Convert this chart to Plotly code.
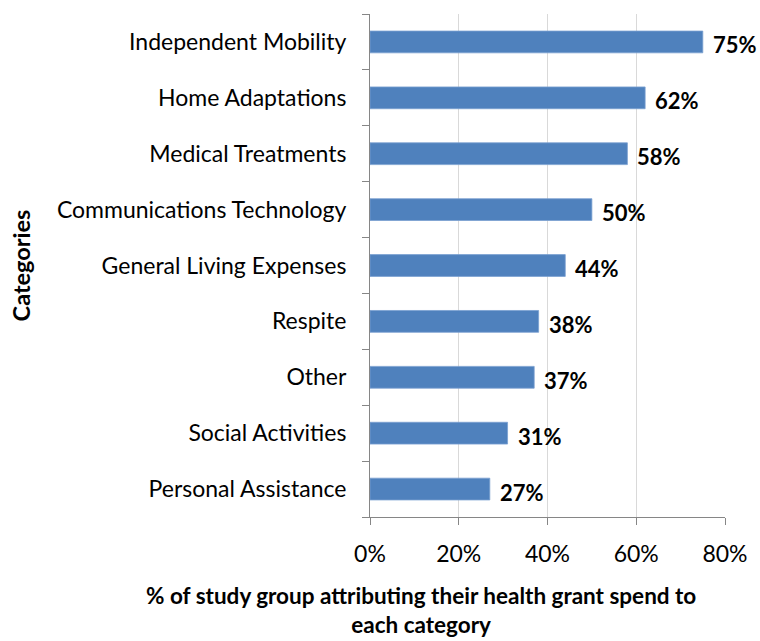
import plotly.graph_objects as go

categories = ["Independent Mobility", "Home Adaptations", "Medical Treatments",
              "Communications Technology", "General Living Expenses", "Respite",
              "Other", "Social Activities", "Personal Assistance"]
values = [75, 62, 58, 50, 44, 38, 37, 31, 27]
x_ticks = [0, 20, 40, 60, 80]
x_tick_labels = ["0%", "20%", "40%", "60%", "80%"]
x_title = "% of study group attributing their health grant spend to<br>each category"

FONT = "Lato"
fig = go.Figure(go.Bar(
    x=values, y=categories, orientation="h",
    marker=dict(color="#4F81BD", line=dict(color="#7A9FD0", width=0.8)),
    width=0.39, hoverinfo="skip",
))

for v, c in zip(values, categories):
    fig.add_annotation(x=v, y=c, text=f"<b>{v}%</b>", showarrow=False,
                       xanchor="left", xshift=8, yshift=-3,
                       font=dict(family=FONT, size=22, color="black"))

fig.add_annotation(xref="paper", yref="paper", x=0.144, y=-0.185,
                   xanchor="center", yanchor="middle", showarrow=False,
                   text=f"<b>{x_title}</b>", borderpad=0,
                   font=dict(family=FONT, size=22.5, color="black"))

fig.update_layout(
    width=760, height=641,
    margin=dict(l=370, r=35, t=14, b=124),
    paper_bgcolor="white", plot_bgcolor="white",
    font=dict(family=FONT, size=23, color="black"),
    showlegend=False,
    xaxis=dict(range=[0, 80], tickvals=x_ticks, ticktext=x_tick_labels,
               showgrid=True, gridcolor="#D9D9D9", gridwidth=1,
               showline=True, linecolor="#868686", linewidth=1,
               ticks="outside", ticklen=7, tickcolor="#868686",
               zeroline=False, tickfont=dict(size=23), ticklabelstandoff=9),
    yaxis=dict(categoryorder="array", categoryarray=categories[::-1],
               showline=True, linecolor="#868686", linewidth=1,
               ticks="outside", ticklen=7, tickcolor="#868686",
               tickson="boundaries", showgrid=False,
               tickfont=dict(size=23), ticklabelstandoff=18,
               title=dict(text="<b>Categories</b>", font=dict(size=23.5), standoff=19)),
)
fig.write_html("out.html")
